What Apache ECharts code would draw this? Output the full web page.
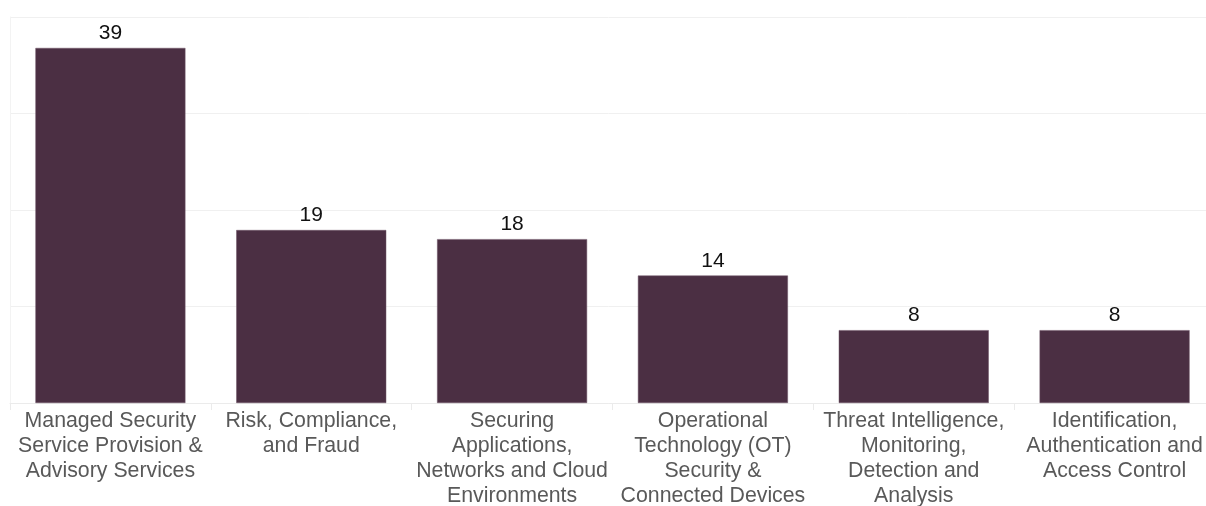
<!DOCTYPE html>
<html>
<head>
<meta charset="utf-8">
<script src="https://cdn.jsdelivr.net/npm/echarts@6/dist/echarts.min.js"></script>
<style>
  html, body { margin: 0; padding: 0; background: #ffffff; overflow: hidden; }
  #chart { width: 1206px; height: 506px; }
</style>
</head>
<body>
<div id="chart"></div>
<script>
// Cybersecurity segments and company counts
const categories = [
  'Managed Security\nService Provision &\nAdvisory Services',
  'Risk, Compliance,\nand Fraud',
  'Securing\nApplications,\nNetworks and Cloud\nEnvironments',
  'Operational\nTechnology (OT)\nSecurity &\nConnected Devices',
  'Threat Intelligence,\nMonitoring,\nDetection and\nAnalysis',
  'Identification,\nAuthentication and\nAccess Control'
];
const counts = [39, 19, 18, 14, 8, 8];

const chart = echarts.init(document.getElementById('chart'));
chart.setOption({
  animation: false,
  backgroundColor: '#ffffff',
  // the plot area runs slightly past the right edge of the canvas
  grid: { left: 10, top: 17, width: 1205, height: 386, containLabel: false, outerBoundsMode: 'none' },
  xAxis: {
    type: 'category',
    data: categories,
    axisLine: { show: true, lineStyle: { color: '#ebebeb', width: 1 } },
    axisTick: { show: true, length: 7, lineStyle: { color: '#ebebeb' } },
    axisLabel: {
      interval: 0,
      margin: 6,
      color: '#595959',
      fontFamily: 'Liberation Sans, Arial, sans-serif',
      fontSize: 21.3,
      lineHeight: 24.8
    }
  },
  yAxis: {
    type: 'value',
    min: 0,
    max: 42.4,
    interval: 10.6,
    axisLabel: { show: false },
    axisTick: { show: false },
    axisLine: { show: true, lineStyle: { color: '#f3f3f3' } },
    splitLine: { show: true, lineStyle: { color: '#f0f0f0', width: 1 } }
  },
  series: [{
    type: 'bar',
    data: counts,
    barWidth: 150,
    itemStyle: { color: '#4b2f43', borderColor: '#6e5566', borderWidth: 0.5 },
    label: {
      show: true,
      position: 'top',
      distance: 4,
      color: '#111111',
      fontFamily: 'Liberation Sans, Arial, sans-serif',
      fontSize: 21
    }
  }]
});
</script>
</body>
</html>
